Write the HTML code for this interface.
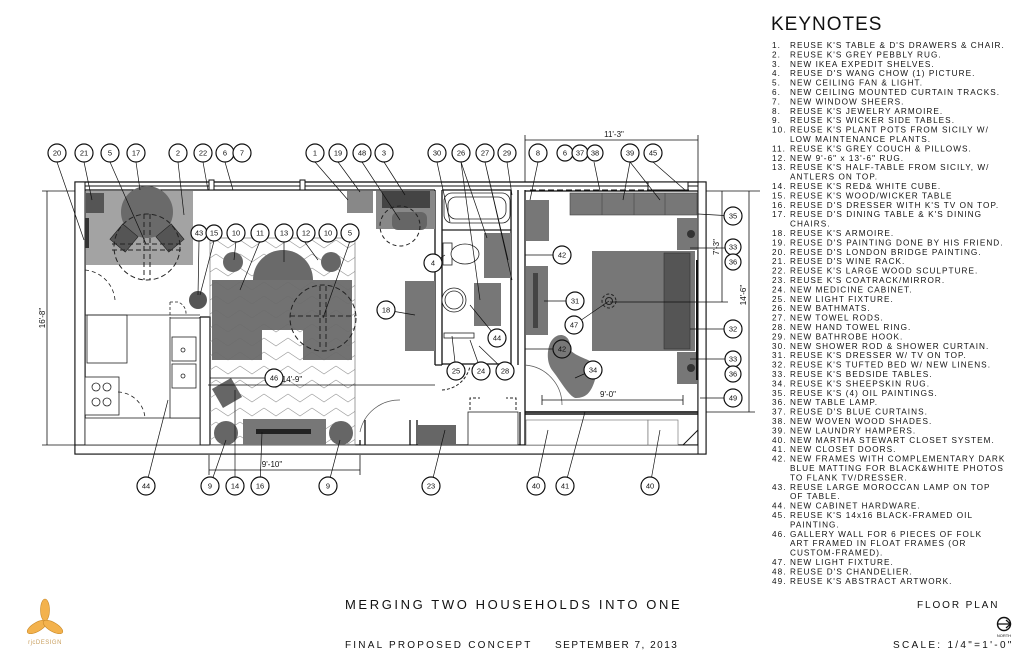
<!DOCTYPE html>
<html><head><meta charset="utf-8"><style>
html,body{margin:0;padding:0;background:#fff}
svg{display:block}
.t{font-family:"Liberation Sans",sans-serif;fill:#111}
.c circle{fill:#fff;stroke:#111;stroke-width:1.2}
.c text{font-family:"Liberation Sans",sans-serif;font-size:7.5px;text-anchor:middle;fill:#111}
.k{font-family:"Liberation Sans",sans-serif;font-size:8.2px;fill:#111;letter-spacing:1.05px}
</style></head><body>
<svg width="1024" height="657" viewBox="0 0 1024 657" xmlns="http://www.w3.org/2000/svg">
<defs>
<pattern id="chev" width="24" height="14" patternUnits="userSpaceOnUse">
<path d="M0 2 L12 10 L24 2" fill="none" stroke="#999" stroke-width="0.7"/>
</pattern>
</defs>
<rect width="1024" height="657" fill="#fff"/>

<!-- Walls -->
<g fill="none" stroke="#111" stroke-width="1.3">
<rect x="75" y="182" width="631" height="272"/>
<path d="M85 190 H435 M85 190 V445 H200 V317"/>
<path d="M210 317 V445 H360"/>
<path d="M200 317 H210 V445"/>
<path d="M435 190 V365 M442 190 V365 M435 365 H442"/>
<path d="M442 190 H511 M511 190 V365 M518 190 V365 M525 190 V365"/>
<path d="M442 364 H511"/>
<path d="M525 191 H698 V445 H410"/>
<path d="M525 365 V412 H698 M525 412 V445 M520 412 V445"/>
<path d="M410 420 V445 M417 420 V445"/>
<path d="M360 440 V445 M365 420 V445"/>
</g>
<g fill="#fff" stroke="#111" stroke-width="1">
<rect x="75" y="182" width="10" height="272"/>
<rect x="75" y="445" width="631" height="9"/>
<rect x="698" y="182" width="8" height="272"/>
</g>
<g stroke="#111" stroke-width="1" fill="none">
<line x1="85" y1="186" x2="698" y2="186"/>
<path d="M88 190 H300" stroke-dasharray="6 3"/>
<path d="M530 190 H690" stroke-dasharray="6 3"/>
<rect x="209" y="180" width="5" height="10" fill="#fff"/>
<rect x="300" y="180" width="5" height="10" fill="#fff"/>
<rect x="648" y="182" width="40" height="8" fill="#fff"/>
</g>

<!-- Dining -->
<rect x="86" y="191" width="107" height="74" fill="#a3a3a3"/>
<rect x="86" y="193" width="18" height="20" fill="#555"/>
<circle cx="147" cy="212" r="26" fill="#6a6a6a"/>
<g fill="#555" stroke="#222" stroke-width=".6">
<rect x="-10" y="-10" width="20" height="20" transform="translate(124 238) rotate(40)"/>
<rect x="-10" y="-10" width="20" height="20" transform="translate(170 238) rotate(-40)"/>
</g>
<circle cx="147" cy="247" r="33" fill="none" stroke="#222" stroke-dasharray="5 3"/>
<path d="M144 214 V280 M150 214 V280 M112 244 H182 M112 250 H182" stroke="#222" stroke-dasharray="5 3" fill="none"/>
<rect x="85" y="218" width="4" height="30" fill="#333"/>

<!-- Kitchen -->
<g fill="#fff" stroke="#222" stroke-width=".8">
<path d="M85 270 A33 33 0 0 1 115 300" fill="none" stroke-dasharray="4 3"/>
<rect x="87" y="315" width="40" height="48"/>
<rect x="85" y="377" width="34" height="38"/>
<circle cx="96" cy="387" r="4"/><circle cx="107" cy="387" r="4"/>
<circle cx="96" cy="402" r="4"/><circle cx="107" cy="402" r="4"/>
<rect x="85" y="418" width="115" height="27"/>
<rect x="170" y="318" width="30" height="100"/>
<rect x="172" y="337" width="24" height="24"/><rect x="172" y="364" width="24" height="24"/>
<circle cx="183" cy="350" r="2"/><circle cx="183" cy="376" r="2"/>
<path d="M118 392 A28 28 0 0 1 145 418" fill="none" stroke-dasharray="4 3"/>
<path d="M170 302 V318 M170 302 H178 A12 12 0 0 1 186 314" fill="none" stroke-dasharray="3 2"/>
</g>
<path d="M85 315 H200" stroke="#222" stroke-width=".8"/>
<circle cx="198" cy="300" r="9" fill="#555"/>

<!-- Living rug -->
<rect x="210" y="238" width="145" height="207" fill="url(#chev)" stroke="#777" stroke-width=".7"/>
<circle cx="233" cy="262" r="10" fill="#666"/>
<circle cx="331" cy="262" r="10" fill="#666"/>
<path d="M253 280 A30 30 0 0 1 313 280 Z" fill="#6a6a6a"/>
<path d="M212 280 H352 V360 H303 V330 H262 V360 H212 Z" fill="#6a6a6a" fill-opacity=".95"/>
<circle cx="323" cy="318" r="33" fill="none" stroke="#222" stroke-dasharray="5 3"/>
<path d="M320 286 V350 M326 286 V350 M290 316 H355" stroke="#222" stroke-dasharray="5 3" fill="none"/>
<rect x="216" y="382" width="22" height="22" fill="#666" transform="rotate(-30 227 393)"/>
<rect x="243" y="419" width="83" height="26" fill="#777"/>
<rect x="256" y="429" width="55" height="5" fill="#222"/>
<circle cx="226" cy="433" r="12" fill="#666"/>
<circle cx="341" cy="433" r="12" fill="#666"/>
<path d="M360 432 A40 40 0 0 1 400 400" fill="none" stroke="#555" stroke-width=".7"/>

<!-- Hallway -->
<rect x="347" y="191" width="26" height="22" fill="#888"/>
<rect x="376" y="191" width="59" height="38" fill="#888"/>
<rect x="382" y="191" width="48" height="17" fill="#444"/>
<rect x="392" y="212" width="35" height="18" rx="6" fill="#666"/>
<circle cx="400" cy="226" r="20" fill="none" stroke="#222" stroke-dasharray="4 3"/>
<rect x="405" y="281" width="30" height="70" fill="#777"/>
<rect x="418" y="425" width="38" height="20" fill="#666"/>
<rect x="468" y="412" width="50" height="33" fill="#fff" stroke="#222" stroke-width=".8"/>
<path d="M470 410 V398 H480 M516 410 V398 H506" fill="none" stroke="#222" stroke-dasharray="3 2"/>
<path d="M442 390 A30 30 0 0 0 470 366" fill="none" stroke="#222" stroke-dasharray="3 2"/>

<!-- Bath -->
<g fill="#fff" stroke="#222" stroke-width=".8">
<rect x="444" y="193" width="66" height="30" rx="8"/>
<rect x="448" y="197" width="58" height="22" rx="8"/>
<rect x="443" y="243" width="9" height="22"/>
<ellipse cx="465" cy="254" rx="14" ry="10"/>
<circle cx="454" cy="300" r="12"/><circle cx="454" cy="300" r="9"/>
<rect x="444" y="333" width="30" height="5"/>
</g>
<rect x="484" y="233" width="27" height="45" fill="#777"/>
<rect x="474" y="283" width="27" height="43" fill="#777"/>
<path d="M442 230 H511" stroke="#222" stroke-width="1.3"/>

<!-- Bedroom -->
<rect x="526" y="200" width="23" height="41" fill="#777"/>
<rect x="570" y="193" width="127" height="22" fill="#777" stroke="#444" stroke-width=".6"/>
<path d="M602 193 V215 M634 193 V215 M665 193 V215" stroke="#444" stroke-width=".6"/>
<rect x="677" y="218" width="20" height="32" fill="#777"/>
<circle cx="691" cy="234" r="4" fill="#333"/>
<rect x="592" y="251" width="103" height="100" fill="#777"/>
<rect x="664" y="253" width="26" height="96" fill="#555" stroke="#333" stroke-width=".6"/>
<rect x="677" y="352" width="20" height="32" fill="#777"/>
<circle cx="691" cy="368" r="4" fill="#333"/>
<circle cx="609" cy="301" r="7" fill="none" stroke="#222" stroke-dasharray="3 2"/>
<circle cx="609" cy="301" r="3.5" fill="none" stroke="#222"/>
<rect x="526" y="266" width="22" height="69" fill="#777"/>
<rect x="533" y="273" width="5" height="55" fill="#444"/>
<path d="M552 340 C560 330 572 336 570 350 C580 360 600 360 597 372 C592 395 585 398 575 398 C568 395 560 380 552 370 C545 360 548 345 552 340 Z" fill="#777"/>
<rect x="526" y="420" width="122" height="25" fill="#fff" stroke="#666" stroke-width=".6"/>
<rect x="648" y="420" width="30" height="25" fill="#fff" stroke="#666" stroke-width=".6"/>
<path d="M525 412 H698 M525 414 H698" stroke="#111" stroke-width="1.5"/>
<path d="M683 445 L698 430" stroke="#111" stroke-width="1"/>
<path d="M525 365 A40 40 0 0 1 562 405" fill="none" stroke="#555" stroke-width=".7"/>
<path d="M697 260 V380" stroke="#111" stroke-width="2"/>

<!-- Dimensions -->
<g stroke="#111" stroke-width=".8" fill="none">
<path d="M47 191 V445 M42 191 H75 M42 445 H75"/>
<path d="M208 385 H435"/>
<path d="M209 470 H360 M209 455 V475 M360 455 V475"/>
<path d="M525 140 H698 M525 135 V182 M698 135 V182"/>
<path d="M722 191 V302 M706 191 H760 M610 302 H728"/>
<path d="M749 191 V412 M706 412 H755"/>
<path d="M542 400 H683 M542 395 V405 M683 395 V405"/>
</g>
<g class="t" font-size="8">
<text x="45" y="318" transform="rotate(-90 45 318)" text-anchor="middle">16'-8"</text>
<text x="292" y="382" text-anchor="middle">14'-9"</text>
<text x="272" y="467" text-anchor="middle">9'-10"</text>
<text x="614" y="137" text-anchor="middle">11'-3"</text>
<text x="719" y="247" transform="rotate(-90 719 247)" text-anchor="middle">7'-3"</text>
<text x="746" y="295" transform="rotate(-90 746 295)" text-anchor="middle">14'-6"</text>
<text x="608" y="397" text-anchor="middle">9'-0"</text>
</g>

<!-- Leader lines -->
<g stroke="#111" stroke-width=".7" fill="none">
<path d="M57 162 L84 240 M84 162 L92 200 M110 162 L146 244 M136 162 L140 190 M178 162 L184 215 M203 162 L208 190 M225 162 L233 190 M315 162 L348 200 M338 162 L360 192 M362 162 L400 220 M384 162 L405 195"/>
<path d="M437 162 L450 222 M461 162 L487 238 M461 162 L480 300 M485 162 L512 280 M485 162 L508 260 M507 162 L512 195 M538 162 L530 200 M594 162 L600 191 M630 162 L623 200 M630 162 L660 200 M653 162 L685 190"/>
<path d="M199 241 L198 295 M214 241 L200 295 M236 241 L234 260 M260 241 L240 290 M284 241 L284 262 M304 241 L318 260 M350 241 L323 318"/>
<path d="M433 263 L445 255 M386 310 L415 315 M274 378 L210 378 M497 338 L470 305 M456 371 L452 336 M481 371 L470 340 M505 371 L479 346"/>
<path d="M562 255 L525 255 M575 301 L544 301 M574 325 L609 301 M562 349 L525 349 M593 370 L575 378"/>
<path d="M733 216 L698 214 M733 248 L690 248 M733 329 L690 329 M733 359 L690 359 M733 398 L700 398"/>
<path d="M146 486 L168 400 M210 486 L226 440 M235 486 L235 390 M260 486 L262 432 M328 486 L340 440 M431 486 L445 430 M536 486 L548 430 M565 486 L585 412 M650 486 L660 430"/>
</g>

<!-- Callouts -->
<g class="c">
<g transform="translate(57,153)"><circle r="9"/><text y="2.7">20</text></g>
<g transform="translate(84,153)"><circle r="9"/><text y="2.7">21</text></g>
<g transform="translate(110,153)"><circle r="9"/><text y="2.7">5</text></g>
<g transform="translate(136,153)"><circle r="9"/><text y="2.7">17</text></g>
<g transform="translate(178,153)"><circle r="9"/><text y="2.7">2</text></g>
<g transform="translate(203,153)"><circle r="9"/><text y="2.7">22</text></g>
<g transform="translate(225,153)"><circle r="9"/><text y="2.7">6</text></g>
<g transform="translate(242,153)"><circle r="9"/><text y="2.7">7</text></g>
<g transform="translate(315,153)"><circle r="9"/><text y="2.7">1</text></g>
<g transform="translate(338,153)"><circle r="9"/><text y="2.7">19</text></g>
<g transform="translate(362,153)"><circle r="9"/><text y="2.7">48</text></g>
<g transform="translate(384,153)"><circle r="9"/><text y="2.7">3</text></g>
<g transform="translate(437,153)"><circle r="9"/><text y="2.7">30</text></g>
<g transform="translate(461,153)"><circle r="9"/><text y="2.7">26</text></g>
<g transform="translate(485,153)"><circle r="9"/><text y="2.7">27</text></g>
<g transform="translate(507,153)"><circle r="9"/><text y="2.7">29</text></g>
<g transform="translate(538,153)"><circle r="9"/><text y="2.7">8</text></g>
<g transform="translate(565,153)"><circle r="8"/><text y="2.7">6</text></g>
<g transform="translate(580,153)"><circle r="8"/><text y="2.7">37</text></g>
<g transform="translate(595,153)"><circle r="8"/><text y="2.7">38</text></g>
<g transform="translate(630,153)"><circle r="9"/><text y="2.7">39</text></g>
<g transform="translate(653,153)"><circle r="9"/><text y="2.7">45</text></g>
<g transform="translate(199,233)"><circle r="8"/><text y="2.7">43</text></g>
<g transform="translate(214,233)"><circle r="8"/><text y="2.7">15</text></g>
<g transform="translate(236,233)"><circle r="9"/><text y="2.7">10</text></g>
<g transform="translate(260,233)"><circle r="9"/><text y="2.7">11</text></g>
<g transform="translate(284,233)"><circle r="9"/><text y="2.7">13</text></g>
<g transform="translate(306,233)"><circle r="9"/><text y="2.7">12</text></g>
<g transform="translate(328,233)"><circle r="9"/><text y="2.7">10</text></g>
<g transform="translate(350,233)"><circle r="9"/><text y="2.7">5</text></g>
<g transform="translate(433,263)"><circle r="9"/><text y="2.7">4</text></g>
<g transform="translate(386,310)"><circle r="9"/><text y="2.7">18</text></g>
<g transform="translate(274,378)"><circle r="9"/><text y="2.7">46</text></g>
<g transform="translate(497,338)"><circle r="9"/><text y="2.7">44</text></g>
<g transform="translate(456,371)"><circle r="9"/><text y="2.7">25</text></g>
<g transform="translate(481,371)"><circle r="9"/><text y="2.7">24</text></g>
<g transform="translate(505,371)"><circle r="9"/><text y="2.7">28</text></g>
<g transform="translate(562,255)"><circle r="9"/><text y="2.7">42</text></g>
<g transform="translate(575,301)"><circle r="9"/><text y="2.7">31</text></g>
<g transform="translate(574,325)"><circle r="9"/><text y="2.7">47</text></g>
<g transform="translate(562,349)"><circle r="9" style="fill:#777"/><text y="2.7">42</text></g>
<g transform="translate(593,370)"><circle r="9"/><text y="2.7">34</text></g>
<g transform="translate(733,216)"><circle r="9"/><text y="2.7">35</text></g>
<g transform="translate(733,247)"><circle r="8"/><text y="2.7">33</text></g>
<g transform="translate(733,262)"><circle r="8"/><text y="2.7">36</text></g>
<g transform="translate(733,329)"><circle r="9"/><text y="2.7">32</text></g>
<g transform="translate(733,359)"><circle r="8"/><text y="2.7">33</text></g>
<g transform="translate(733,374)"><circle r="8"/><text y="2.7">36</text></g>
<g transform="translate(733,398)"><circle r="9"/><text y="2.7">49</text></g>
<g transform="translate(146,486)"><circle r="9"/><text y="2.7">44</text></g>
<g transform="translate(210,486)"><circle r="9"/><text y="2.7">9</text></g>
<g transform="translate(235,486)"><circle r="9"/><text y="2.7">14</text></g>
<g transform="translate(260,486)"><circle r="9"/><text y="2.7">16</text></g>
<g transform="translate(328,486)"><circle r="9"/><text y="2.7">9</text></g>
<g transform="translate(431,486)"><circle r="9"/><text y="2.7">23</text></g>
<g transform="translate(536,486)"><circle r="9"/><text y="2.7">40</text></g>
<g transform="translate(565,486)"><circle r="9"/><text y="2.7">41</text></g>
<g transform="translate(650,486)"><circle r="9"/><text y="2.7">40</text></g>
</g>

<!-- Keynotes -->
<text class="t" x="771" y="30" font-size="19" letter-spacing="1">KEYNOTES</text>
<g class="k">
<text x="772" y="48">1.</text><text x="790" y="48">REUSE K'S TABLE &amp; D'S DRAWERS &amp; CHAIR.</text>
<text x="772" y="57.4">2.</text><text x="790" y="57.4">REUSE K'S GREY PEBBLY RUG.</text>
<text x="772" y="66.8">3.</text><text x="790" y="66.8">NEW IKEA EXPEDIT SHELVES.</text>
<text x="772" y="76.2">4.</text><text x="790" y="76.2">REUSE D'S WANG CHOW (1) PICTURE.</text>
<text x="772" y="85.6">5.</text><text x="790" y="85.6">NEW CEILING FAN &amp; LIGHT.</text>
<text x="772" y="95">6.</text><text x="790" y="95">NEW CEILING MOUNTED CURTAIN TRACKS.</text>
<text x="772" y="104.4">7.</text><text x="790" y="104.4">NEW WINDOW SHEERS.</text>
<text x="772" y="113.8">8.</text><text x="790" y="113.8">REUSE K'S JEWELRY ARMOIRE.</text>
<text x="772" y="123.2">9.</text><text x="790" y="123.2">REUSE K'S WICKER SIDE TABLES.</text>
<text x="772" y="132.6">10.</text><text x="790" y="132.6">REUSE K'S PLANT POTS FROM SICILY W/</text>
<text x="790" y="142">LOW MAINTENANCE PLANTS.</text>
<text x="772" y="151.4">11.</text><text x="790" y="151.4">REUSE K'S GREY COUCH &amp; PILLOWS.</text>
<text x="772" y="160.8">12.</text><text x="790" y="160.8">NEW 9'-6" x 13'-6" RUG.</text>
<text x="772" y="170.2">13.</text><text x="790" y="170.2">REUSE K'S HALF-TABLE FROM SICILY, W/</text>
<text x="790" y="179.6">ANTLERS ON TOP.</text>
<text x="772" y="189">14.</text><text x="790" y="189">REUSE K'S RED&amp; WHITE CUBE.</text>
<text x="772" y="198.4">15.</text><text x="790" y="198.4">REUSE K'S WOOD/WICKER TABLE</text>
<text x="772" y="207.8">16.</text><text x="790" y="207.8">REUSE D'S DRESSER WITH K'S TV ON TOP.</text>
<text x="772" y="217.2">17.</text><text x="790" y="217.2">REUSE D'S DINING TABLE &amp; K'S DINING</text>
<text x="790" y="226.6">CHAIRS.</text>
<text x="772" y="236">18.</text><text x="790" y="236">REUSE K'S ARMOIRE.</text>
<text x="772" y="245.4">19.</text><text x="790" y="245.4">REUSE D'S PAINTING DONE BY HIS FRIEND.</text>
<text x="772" y="254.8">20.</text><text x="790" y="254.8">REUSE D'S LONDON BRIDGE PAINTING.</text>
<text x="772" y="264.2">21.</text><text x="790" y="264.2">REUSE D'S WINE RACK.</text>
<text x="772" y="273.6">22.</text><text x="790" y="273.6">REUSE K'S LARGE WOOD SCULPTURE.</text>
<text x="772" y="283">23.</text><text x="790" y="283">REUSE K'S COATRACK/MIRROR.</text>
<text x="772" y="292.4">24.</text><text x="790" y="292.4">NEW MEDICINE CABINET.</text>
<text x="772" y="301.8">25.</text><text x="790" y="301.8">NEW LIGHT FIXTURE.</text>
<text x="772" y="311.2">26.</text><text x="790" y="311.2">NEW BATHMATS.</text>
<text x="772" y="320.6">27.</text><text x="790" y="320.6">NEW TOWEL RODS.</text>
<text x="772" y="330">28.</text><text x="790" y="330">NEW HAND TOWEL RING.</text>
<text x="772" y="339.4">29.</text><text x="790" y="339.4">NEW BATHROBE HOOK.</text>
<text x="772" y="348.8">30.</text><text x="790" y="348.8">NEW SHOWER ROD &amp; SHOWER CURTAIN.</text>
<text x="772" y="358.2">31.</text><text x="790" y="358.2">REUSE K'S DRESSER W/ TV ON TOP.</text>
<text x="772" y="367.6">32.</text><text x="790" y="367.6">REUSE K'S TUFTED BED W/ NEW LINENS.</text>
<text x="772" y="377">33.</text><text x="790" y="377">REUSE K'S BEDSIDE TABLES.</text>
<text x="772" y="386.4">34.</text><text x="790" y="386.4">REUSE K'S SHEEPSKIN RUG.</text>
<text x="772" y="395.8">35.</text><text x="790" y="395.8">REUSE K'S (4) OIL PAINTINGS.</text>
<text x="772" y="405.2">36.</text><text x="790" y="405.2">NEW TABLE LAMP.</text>
<text x="772" y="414.6">37.</text><text x="790" y="414.6">REUSE D'S BLUE CURTAINS.</text>
<text x="772" y="424">38.</text><text x="790" y="424">NEW WOVEN WOOD SHADES.</text>
<text x="772" y="433.4">39.</text><text x="790" y="433.4">NEW LAUNDRY HAMPERS.</text>
<text x="772" y="442.8">40.</text><text x="790" y="442.8">NEW MARTHA STEWART CLOSET SYSTEM.</text>
<text x="772" y="452.2">41.</text><text x="790" y="452.2">NEW CLOSET DOORS.</text>
<text x="772" y="461.6">42.</text><text x="790" y="461.6">NEW FRAMES WITH COMPLEMENTARY DARK</text>
<text x="790" y="471">BLUE MATTING FOR BLACK&amp;WHITE PHOTOS</text>
<text x="790" y="480.4">TO FLANK TV/DRESSER.</text>
<text x="772" y="489.8">43.</text><text x="790" y="489.8">REUSE LARGE MOROCCAN LAMP ON TOP</text>
<text x="790" y="499.2">OF TABLE.</text>
<text x="772" y="508.6">44.</text><text x="790" y="508.6">NEW CABINET HARDWARE.</text>
<text x="772" y="518">45.</text><text x="790" y="518">REUSE K'S 14x16 BLACK-FRAMED OIL</text>
<text x="790" y="527.4">PAINTING.</text>
<text x="772" y="536.8">46.</text><text x="790" y="536.8">GALLERY WALL FOR 6 PIECES OF FOLK</text>
<text x="790" y="546.2">ART FRAMED IN FLOAT FRAMES (OR</text>
<text x="790" y="555.6">CUSTOM-FRAMED).</text>
<text x="772" y="565">47.</text><text x="790" y="565">NEW LIGHT FIXTURE.</text>
<text x="772" y="574.4">48.</text><text x="790" y="574.4">REUSE D'S CHANDELIER.</text>
<text x="772" y="583.8">49.</text><text x="790" y="583.8">REUSE K'S ABSTRACT ARTWORK.</text>
</g>

<!-- Title block -->
<text class="t" x="345" y="609" font-size="13" letter-spacing="2.6">MERGING TWO HOUSEHOLDS INTO ONE</text>
<text class="t" x="345" y="648" font-size="10" letter-spacing="2.2">FINAL PROPOSED CONCEPT</text>
<text class="t" x="555" y="648" font-size="10" letter-spacing="1.5">SEPTEMBER 7, 2013</text>
<text class="t" x="917" y="608" font-size="10" letter-spacing="1.9">FLOOR PLAN</text>
<text class="t" x="893" y="648" font-size="10" letter-spacing="2.3">SCALE: 1/4"=1'-0"</text>
<g transform="translate(1004,624)">
<circle r="6.5" fill="none" stroke="#111" stroke-width="1.4"/>
<path d="M-6.5 0 H6.5 M2 -4 L6.5 0 L2 4" fill="none" stroke="#111" stroke-width="1.2"/>
<text class="t" y="13" font-size="4" text-anchor="middle">NORTH</text>
</g>

<!-- Logo -->
<g fill="#f3b24d" stroke="#c98a2a" stroke-width=".6">
<ellipse cx="45" cy="610" rx="4.5" ry="11"/>
<ellipse cx="37" cy="627" rx="4.5" ry="11" transform="rotate(60 37 627)"/>
<ellipse cx="53" cy="627" rx="4.5" ry="11" transform="rotate(-60 53 627)"/>
</g>
<text x="45" y="644" font-family="Liberation Sans,sans-serif" font-size="6" text-anchor="middle" fill="#c9a060" letter-spacing=".5">rjcDESIGN</text>
</svg>
</body></html>
